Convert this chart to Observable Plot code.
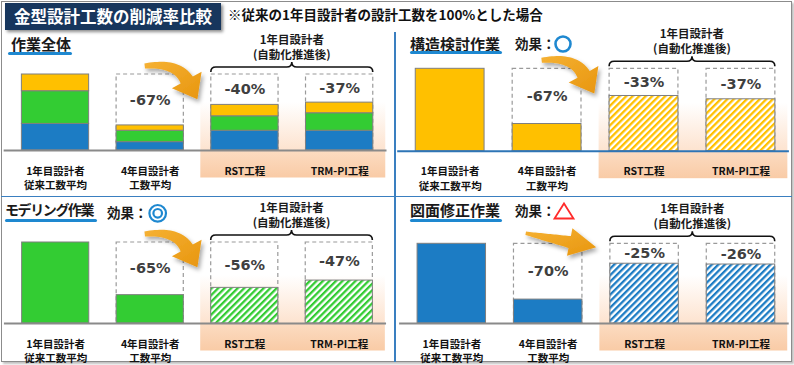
<!DOCTYPE html>
<html><head><meta charset="utf-8">
<script src="https://cdn.jsdelivr.net/npm/d3@7"></script>
<script src="https://cdn.jsdelivr.net/npm/@observablehq/plot@0.6"></script>
<style>
body{margin:0;background:#fff;}
#root{position:relative;width:794px;height:365px;overflow:hidden;font-family:"Noto Sans CJK JP","Noto Sans",sans-serif;}
.abs{position:absolute;white-space:nowrap;line-height:1;}
.frame{position:absolute;left:1px;top:1px;width:789px;height:359px;border:1.5px solid #8c8c8c;box-shadow:2px 2px 2px rgba(0,0,0,.25);}
.titlebox{position:absolute;left:5px;top:3px;width:216px;height:27px;background:#17365d;box-shadow:2px 2px 3px rgba(0,0,0,.45);color:#fff;font-weight:700;font-size:16.5px;line-height:27px;padding-left:9px;box-sizing:border-box;}
.note{font-weight:700;font-size:13.5px;color:#111;}
.ptitle{font-weight:700;font-size:15px;color:#1a1a1a;}
.uline{position:absolute;height:3px;background:#1e88d0;border-radius:2px;}
.eff{font-weight:700;font-size:13.5px;color:#1a1a1a;}
.divider{position:absolute;background:#3a7fc0;}
g[aria-label="pct"]{filter:url(#text-shadow);}
</style></head><body>
<div id="root">
<svg width="0" height="0" style="position:absolute;left:0;top:0">
<defs>
<pattern id="hatch-yellow" width="4.6" height="4.6" patternUnits="userSpaceOnUse" patternTransform="rotate(45)"><rect width="4.6" height="4.6" fill="#fff"/><rect width="2.3" height="4.6" fill="#ffc000"/></pattern>
<pattern id="hatch-green" width="4.6" height="4.6" patternUnits="userSpaceOnUse" patternTransform="rotate(45)"><rect width="4.6" height="4.6" fill="#fff"/><rect width="2.3" height="4.6" fill="#33cc33"/></pattern>
<pattern id="hatch-blue" width="4.6" height="4.6" patternUnits="userSpaceOnUse" patternTransform="rotate(45)"><rect width="4.6" height="4.6" fill="#fff"/><rect width="2.3" height="4.6" fill="#1c7cc4"/></pattern>
<linearGradient id="peach-fade" x1="0" y1="0" x2="0" y2="1"><stop offset="0" stop-color="#fde3cf" stop-opacity="0"/><stop offset="1" stop-color="#fde3cf" stop-opacity="1"/></linearGradient>
<linearGradient id="peach-solid" x1="0" y1="0" x2="0" y2="1"><stop offset="0" stop-color="#fcdcc2"/><stop offset="1" stop-color="#f9cba6"/></linearGradient>
<linearGradient id="arrow-grad" x1="0" y1="0" x2="1" y2="1"><stop offset="0" stop-color="#f5b133"/><stop offset="1" stop-color="#e8960f"/></linearGradient>
<filter id="arrow-shadow" x="-30%" y="-30%" width="160%" height="160%"><feDropShadow dx="2" dy="3" stdDeviation="2" flood-color="#000" flood-opacity="0.35"/></filter>
<filter id="text-shadow" x="-20%" y="-40%" width="140%" height="180%"><feDropShadow dx="1" dy="1" stdDeviation="1.2" flood-color="#777" flood-opacity="0.55"/></filter>
</defs>
</svg>
</div>
<script>
// ---------- data ----------
const categories = ["1年目設計者\n従来工数平均", "4年目設計者\n工数平均", "RST工程", "TRM-PI工程"];
const series = ["図面修正作業", "モデリング作業", "構造検討作業"]; // bottom -> top
const seriesColors = ["#1c7cc4", "#33cc33", "#ffc000"];
const hatchFills = ["url(#hatch-blue)", "url(#hatch-green)", "url(#hatch-yellow)"];
const overallDrawing = [35, 11, 26, 26];
const overallModeling = [43, 15, 19, 23];
const overallStructure = [22, 7, 15, 14];
const overallLabels = ["", "-67%", "-40%", "-37%"];
const structureValues = [100, 33, 67, 63];
const structureLabels = ["", "-67%", "-33%", "-37%"];
const modelingValues = [100, 35, 44, 53];
const modelingLabels = ["", "-65%", "-56%", "-47%"];
const drawingValues = [100, 30, 75, 74];
const drawingLabels = ["", "-70%", "-25%", "-26%"];
const panelTitles = ["作業全体", "構造検討作業", "モデリング作業", "図面修正作業"];
const effectLabel = "効果：";
const afterHeader = ["1年目設計者", "(自動化推進後)"];
const titleText = "金型設計工数の削減率比較";
const noteText = "※従来の1年目設計者の設計工数を100%とした場合";
const baseline = 100;

const root = document.getElementById("root");
function div(cls, css, text) {
  const e = document.createElement("div");
  e.className = cls; e.style.cssText = css; if (text != null) e.textContent = text;
  root.appendChild(e); return e;
}

// frame, title, dividers
div("frame", "");
div("titlebox", "", titleText);
div("abs note", "left:228px;top:8px;", noteText);
div("divider", "left:394px;top:32px;width:1.5px;height:330px;");
div("divider", "left:1px;top:195.5px;width:791px;height:1.5px;");

// ---------- custom decorations (positioned via the plot's scales) ----------
function afterBackground() {
  return (index, {x, y}) => {
    const bw = x.bandwidth();
    const x0 = x(categories[2]) - 10.5, x1 = x(categories[3]) + bw + 12.5, y0 = y(0);
    const g = d3.create("svg:g");
    g.append("rect").attr("x", x0).attr("y", y0 - 48).attr("width", x1 - x0).attr("height", 48).attr("fill", "url(#peach-fade)");
    g.append("rect").attr("x", x0).attr("y", y0).attr("width", x1 - x0).attr("height", 27.5).attr("fill", "url(#peach-solid)");
    return g.node();
  };
}
function afterBrace() {
  return (index, {x, y}) => {
    const bw = x.bandwidth();
    const xa = x(categories[2]), xb = x(categories[3]) + bw, xm = (xa + xb) / 2;
    const yt = y(baseline), yb = yt - 7, r = 5;
    const g = d3.create("svg:g");
    g.append("path")
      .attr("d", `M${xa},${yb + r}Q${xa},${yb} ${xa + r},${yb}L${xm - r},${yb}Q${xm},${yb} ${xm},${yb - r}Q${xm},${yb} ${xm + r},${yb}L${xb - r},${yb}Q${xb},${yb} ${xb},${yb + r}`)
      .attr("fill", "none").attr("stroke", "#111").attr("stroke-width", 1.6);
    afterHeader.forEach((t, i) => {
      g.append("text").attr("x", xm).attr("y", yt - 35 + i * 14.5)
        .attr("text-anchor", "middle").attr("dominant-baseline", "central")
        .attr("font-family", "'Noto Sans CJK JP', sans-serif").attr("font-weight", 700)
        .attr("font-size", 11.5).attr("fill", "#1a1a1a").text(t);
    });
    return g.node();
  };
}
function arrowPath(S, C, E, w0, w1, hw, hl) {
  const N = 24, L = [], R = [];
  for (let i = 0; i <= N; i++) {
    const t = i / N, u = 1 - t;
    const px = u * u * S[0] + 2 * u * t * C[0] + t * t * E[0];
    const py = u * u * S[1] + 2 * u * t * C[1] + t * t * E[1];
    const dx = 2 * u * (C[0] - S[0]) + 2 * t * (E[0] - C[0]);
    const dy = 2 * u * (C[1] - S[1]) + 2 * t * (E[1] - C[1]);
    const len = Math.hypot(dx, dy), nx = -dy / len, ny = dx / len;
    const w = (w0 + (w1 - w0) * t) / 2;
    L.push([px + nx * w, py + ny * w]); R.push([px - nx * w, py - ny * w]);
  }
  const ex = E[0] - C[0], ey = E[1] - C[1], el = Math.hypot(ex, ey);
  const ux = ex / el, uy = ey / el, nx = -uy, ny = ux;
  const tip = [E[0] + ux * hl, E[1] + uy * hl];
  const b1 = [E[0] + nx * hw, E[1] + ny * hw], b2 = [E[0] - nx * hw, E[1] - ny * hw];
  const pts = [...L, b1, tip, b2, ...R.reverse()];
  return "M" + pts.map(p => p[0].toFixed(1) + "," + p[1].toFixed(1)).join("L") + "Z";
}
const curvedArrow = {S: [-5, -8], C: [27, -12], E: [37, 6], w0: 5, w1: 14, hw: 17, hl: 22};
const straightArrow = {S: [-22, -10], C: [0, -5.6], E: [22, -1.3], w0: 3.5, w1: 12, hw: 14, hl: 27};
function arrowMark(geom) {
  return (index, {x, y}) => {
    const ox = x(categories[1]) + x.bandwidth() / 2, oy = y(baseline);
    const P = ([a, b]) => [ox + a, oy + b];
    const g = d3.create("svg:g");
    g.append("path").attr("d", arrowPath(P(geom.S), P(geom.C), P(geom.E), geom.w0, geom.w1, geom.hw, geom.hl))
      .attr("fill", "url(#arrow-grad)").attr("filter", "url(#arrow-shadow)");
    return g.node();
  };
}

// ---------- panel builder ----------
const dashRows = categories.slice(1).map(cat => ({cat, value: baseline}));
function makePanel(cfg) {
  const marks = [
    afterBackground(),
    Plot.barY(dashRows, {x: "cat", y: "value", fill: "none", stroke: "#9a9a9a", strokeWidth: 1.2, strokeDasharray: "4,3"}),
    ...cfg.barMarks,
    Plot.ruleY([0], {stroke: cfg.axisColor, strokeWidth: 2, insetLeft: -4}),
    Plot.text(cfg.labelRows, {x: "cat", y: d => (d.total + baseline) / 2, text: "label", fontFamily: "DejaVu Sans", fontWeight: "bold", fontSize: 14.5, fill: "#3f3f3f", ariaLabel: "pct"}),
    Plot.text(categories, {x: d => d, y: 0, text: d => d, lineAnchor: "top", dy: 13.5, lineHeight: 1.42, fontFamily: "'Noto Sans CJK JP', sans-serif", fontWeight: "bold", fontSize: 10.5, fill: "#111"}),
    afterBrace(),
    arrowMark(cfg.arrow)
  ];
  const svg = Plot.plot({
    width: cfg.width, height: cfg.height,
    marginLeft: cfg.mL, marginRight: cfg.mR, marginTop: cfg.mT, marginBottom: cfg.mB,
    x: {domain: categories, paddingInner: 0.29, paddingOuter: 0.145, round: false, axis: null},
    y: {domain: [0, 100], axis: null},
    color: cfg.color,
    style: "overflow:visible;background:transparent;",
    marks
  });
  svg.style.position = "absolute";
  svg.style.left = cfg.left + "px";
  svg.style.top = cfg.top + "px";
  svg.style.overflow = "visible";
  svg.style.background = "transparent";
  root.appendChild(svg);
}

function singleBars(values, color, hatch) {
  const rows = categories.map((cat, i) => ({cat, value: values[i]}));
  return [
    Plot.barY(rows.slice(0, 2), {x: "cat", y: "value", fill: color, stroke: "#7f7f7f", strokeWidth: 1}),
    Plot.barY(rows.slice(2), {x: "cat", y: "value", fill: hatch, stroke: "#7f7f7f", strokeWidth: 1})
  ];
}
function labelRows(totals, labels) {
  return categories.map((cat, i) => ({cat, total: totals[i], label: labels[i]})).slice(1);
}

// panel 1: overall (stacked)
const stackRows = [];
categories.forEach((cat, i) => {
  stackRows.push({cat, series: series[0], value: overallDrawing[i]});
  stackRows.push({cat, series: series[1], value: overallModeling[i]});
  stackRows.push({cat, series: series[2], value: overallStructure[i]});
});
const overallTotals = categories.map((c, i) => overallDrawing[i] + overallModeling[i] + overallStructure[i]);
makePanel({
  left: 3, top: 33, width: 391, height: 163, mL: 4.65, mR: 7.5, mT: 41, mB: 46,
  color: {domain: series, range: seriesColors},
  barMarks: [Plot.barY(stackRows, {x: "cat", y: "value", fill: "series", order: series, stroke: "#7f7f7f", strokeWidth: 1})],
  axisColor: "#8a8a8a",
  labelRows: labelRows(overallTotals, overallLabels),
  arrow: curvedArrow
});
// panel 2: structure
makePanel({
  left: 395, top: 33, width: 396, height: 163, mL: 6.2, mR: 2.1, mT: 35.3, mB: 45.3,
  barMarks: singleBars(structureValues, seriesColors[2], hatchFills[2]),
  axisColor: "#2e75b6",
  labelRows: labelRows(structureValues, structureLabels),
  arrow: curvedArrow
});
// panel 3: modeling
makePanel({
  left: 3, top: 196, width: 391, height: 166, mL: 4.93, mR: 7.94, mT: 46, mB: 39,
  barMarks: singleBars(modelingValues, seriesColors[1], hatchFills[1]),
  axisColor: "#8a8a8a",
  labelRows: labelRows(modelingValues, modelingLabels),
  arrow: curvedArrow
});
// panel 4: drawing
makePanel({
  left: 395, top: 196, width: 396, height: 166, mL: 8.1, mR: 2.3, mT: 47.3, mB: 39,
  barMarks: singleBars(drawingValues, seriesColors[0], hatchFills[0]),
  axisColor: "#8a8a8a",
  labelRows: labelRows(drawingValues, drawingLabels),
  arrow: straightArrow
});

// ---------- panel headings ----------
div("abs ptitle", "left:11px;top:36px;", panelTitles[0]);
div("uline", "left:8px;top:51.5px;width:64px;");
div("abs ptitle", "left:410px;top:36px;", panelTitles[1]);
div("uline", "left:410px;top:51px;width:92px;");
div("abs ptitle", "left:5px;top:202px;font-size:14px;letter-spacing:-1.4px;", panelTitles[2]);
div("uline", "left:5px;top:218.5px;width:92px;");
div("abs ptitle", "left:410px;top:202px;", panelTitles[3]);
div("uline", "left:410px;top:218.5px;width:92px;");

div("abs eff", "left:515px;top:37px;", effectLabel);
div("abs eff", "left:107px;top:206px;", effectLabel);
div("abs eff", "left:515px;top:204px;", effectLabel);

const sym = d3.select(root).append("svg").attr("width", 794).attr("height", 365)
  .style("position", "absolute").style("left", 0).style("top", 0).style("pointer-events", "none");
sym.append("circle").attr("cx", 563).attr("cy", 44).attr("r", 7.5).attr("fill", "none").attr("stroke", "#1e88d0").attr("stroke-width", 2.6);
sym.append("circle").attr("cx", 157.7).attr("cy", 213.3).attr("r", 8.3).attr("fill", "none").attr("stroke", "#1e88d0").attr("stroke-width", 2.2);
sym.append("circle").attr("cx", 157.7).attr("cy", 213.3).attr("r", 4.3).attr("fill", "none").attr("stroke", "#1e88d0").attr("stroke-width", 2.2);
sym.append("path").attr("d", "M564,203.5L573.5,218.5L554.5,218.5Z").attr("fill", "none").attr("stroke", "#ff2a2a").attr("stroke-width", 1.8).attr("stroke-linejoin", "miter");
</script>
</body></html>
